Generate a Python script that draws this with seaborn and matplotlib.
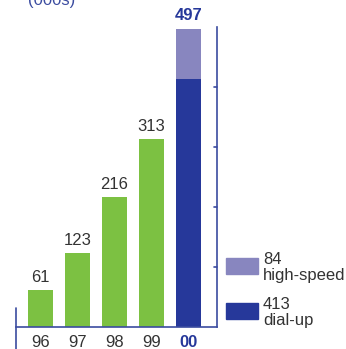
import matplotlib
matplotlib.use("Agg")
import matplotlib.pyplot as plt
from matplotlib.patches import Rectangle
import seaborn as sns
import pandas as pd

# data (thousands of subscribers)
years = ['96', '97', '98', '99', '00']
totals = [61, 123, 216, 313, 497]
dialup_2000 = 413
highspeed_2000 = 84

green = '#7cc142'
dark_blue = '#26389a'
light_blue = '#8886bf'
line_blue = '#3b4ca0'
text_grey = '#333333'

sns.set_theme(style='white')
plt.rcParams['font.family'] = ['Liberation Sans', 'DejaVu Sans']

fig = plt.figure(figsize=(3.46, 3.49), dpi=100)
ax = fig.add_axes([16/346, 22/349, 201/346, 300/349])

df = pd.DataFrame({'year': years, 'total': totals})
bar_cols = [green] * 4 + [light_blue]
sns.barplot(data=df, x='year', y='total', order=years, hue='year',
            palette=bar_cols, legend=False, width=0.676, ax=ax, saturation=1,
            linewidth=0)
# dial-up part of the 2000 stack
sns.barplot(x=['00'], y=[dialup_2000], order=years, color=dark_blue,
            width=0.676, ax=ax, saturation=1, linewidth=0)

ax.set_xlim(-0.662, 4.77)
ax.set_ylim(0, 500)
ax.set_xlabel('')
ax.set_ylabel('')
ax.set_yticks([])

# value labels
for i, v in enumerate(totals):
    last = i == len(totals) - 1
    ax.annotate(str(v), (i, v), xytext=(0, 4), textcoords='offset points',
                ha='center', va='bottom', fontsize=12,
                color=dark_blue if last else text_grey,
                fontweight='bold' if last else 'normal')

# x tick labels
ax.tick_params(axis='x', length=0, pad=6, labelsize=12, colors=text_grey)
ax.set_xticks(range(len(years)))
ax.set_xticklabels(years)
lab = ax.get_xticklabels()[-1]
lab.set_color(dark_blue)
lab.set_fontweight('bold')

# axes lines
for s in ['top', 'left']:
    ax.spines[s].set_visible(False)
ax.spines['bottom'].set_color(line_blue)
ax.spines['bottom'].set_linewidth(1.2)
ax.spines['right'].set_color(line_blue)
ax.spines['right'].set_linewidth(1.2)
ax.plot([-0.662, -0.662], [32, -37], color=line_blue, lw=1.2, clip_on=False)
for t in [100, 200, 300, 400]:
    ax.plot([4.77 - 0.08, 4.77], [t, t], color=line_blue, lw=1.2, clip_on=False)

# units
fig.text(28/346, (349-5)/349, '(000s)', color=line_blue, fontsize=12,
         ha='left', va='baseline')

# legend
fig.patches.append(Rectangle((226/346, (349-274)/349), 32/346, 16/349,
                             transform=fig.transFigure, color=light_blue))
fig.patches.append(Rectangle((226/346, (349-319)/349), 32/346, 16/349,
                             transform=fig.transFigure, color=dark_blue))
fig.text(263/346, (349-264)/349, str(highspeed_2000), color=text_grey,
         fontsize=12, va='baseline')
fig.text(263/346, (349-280)/349, 'high-speed', color=text_grey,
         fontsize=12, va='baseline')
fig.text(263/346, (349-309)/349, str(dialup_2000), color=text_grey,
         fontsize=12, va='baseline')
fig.text(263/346, (349-325)/349, 'dial-up', color=text_grey,
         fontsize=12, va='baseline')

fig.savefig('out.png', dpi=100)
